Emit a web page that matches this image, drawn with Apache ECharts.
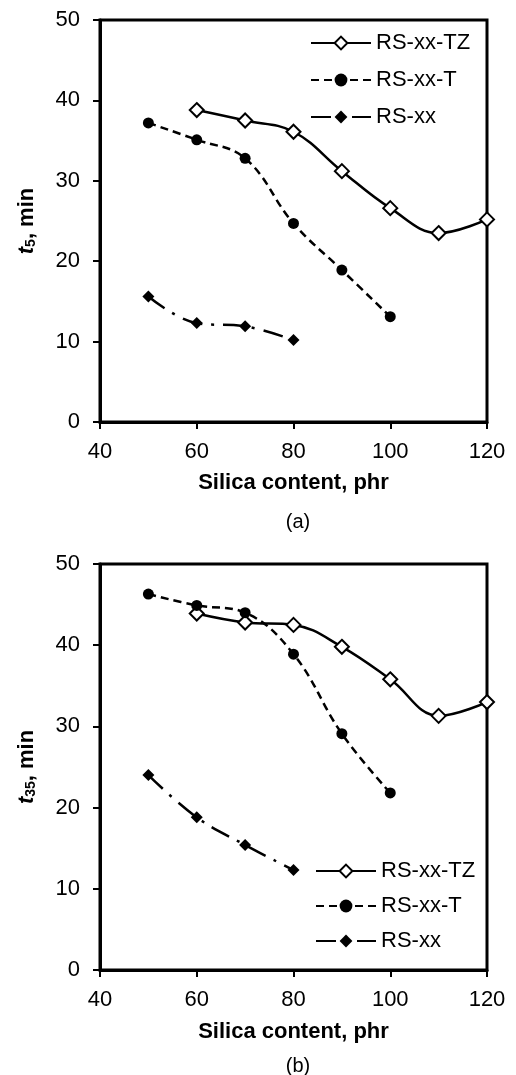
<!DOCTYPE html>
<html>
<head>
<meta charset="utf-8">
<script src="https://cdn.jsdelivr.net/npm/echarts@6/dist/echarts.min.js"></script>
<style>
  html, body { margin: 0; padding: 0; background: #fff; }
  #chart { width: 516px; height: 1075px; }
</style>
</head>
<body>
<div id="chart"></div>
<script>
// silica content, phr
let silica = [50, 60, 70, 80, 90, 100, 110, 120];

// (a) t5, min
let t5_TZ = [null, 38.8, 37.5, 36.1, 31.2, 26.6, 23.5, 25.2];
let t5_T = [37.2, 35.1, 32.8, 24.7, 18.9, 13.1, null, null];
let t5_xx = [15.6, 12.3, 11.9, 10.2, null, null, null, null];

// (b) t35, min
let t35_TZ = [null, 43.9, 42.8, 42.5, 39.8, 35.8, 31.3, 33.0];
let t35_T = [46.3, 44.9, 44.0, 38.9, 29.1, 21.8, null, null];
let t35_xx = [24.0, 18.8, 15.4, 12.3, null, null, null, null];

let names = ['RS-xx-TZ', 'RS-xx-T', 'RS-xx'];

let font = 'Liberation Sans, Arial, sans-serif';

function pairs(arr) {
  let out = [];
  for (let i = 0; i < silica.length; i++) {
    if (arr[i] !== null) out.push([silica[i], arr[i]]);
  }
  return out;
}

// 每条曲线的样式
function seriesFor(idx, tz, t, xx) {
  return [
    {
      name: names[0], type: 'line', xAxisIndex: idx, yAxisIndex: idx,
      data: pairs(tz), smooth: 0.4,
      symbol: 'diamond', symbolSize: 14,
      lineStyle: { color: '#000', width: 2.5, type: 'solid' },
      itemStyle: { color: '#fff', borderColor: '#000', borderWidth: 2 }
    },
    {
      name: names[1], type: 'line', xAxisIndex: idx, yAxisIndex: idx,
      data: pairs(t), smooth: 0.4,
      symbol: 'circle', symbolSize: 11,
      lineStyle: { color: '#000', width: 2.5, type: [8, 5] },
      itemStyle: { color: '#000' }
    },
    {
      name: names[2], type: 'line', xAxisIndex: idx, yAxisIndex: idx,
      data: pairs(xx), smooth: 0.4,
      symbol: 'diamond', symbolSize: 12,
      lineStyle: { color: '#000', width: 2.5, type: [20, 9, 3, 9] },
      itemStyle: { color: '#000' }
    }
  ];
}

function xAxisFor(idx, gap) {
  return {
    type: 'value', gridIndex: idx, min: 40, max: 120, interval: 20,
    name: 'Silica content, phr', nameLocation: 'middle', nameGap: gap,
    nameTextStyle: { fontFamily: font, fontSize: 22, fontWeight: 'bold', color: '#000' },
    axisLine: { lineStyle: { color: '#000', width: 3 } },
    axisTick: { length: 7, lineStyle: { color: '#000', width: 2 } },
    axisLabel: { margin: 19, fontFamily: font, fontSize: 22, color: '#000' },
    splitLine: { show: false }
  };
}

function yAxisFor(idx, sub) {
  return {
    type: 'value', gridIndex: idx, min: 0, max: 50, interval: 10,
    name: '{t|t}{s|' + sub + '}{n|, min}', nameLocation: 'middle', nameGap: 62,
    nameTextStyle: {
      rich: {
        t: { fontFamily: font, fontSize: 22, fontWeight: 'bold', fontStyle: 'italic', color: '#000' },
        s: { fontFamily: font, fontSize: 14, fontWeight: 'bold', color: '#000', verticalAlign: 'bottom', padding: [9, 0, 0, 0] },
        n: { fontFamily: font, fontSize: 22, fontWeight: 'bold', color: '#000' }
      }
    },
    axisLine: { lineStyle: { color: '#000', width: 3 } },
    axisTick: { length: 7, lineStyle: { color: '#000', width: 2 } },
    axisLabel: { margin: 20, fontFamily: font, fontSize: 22, color: '#000' },
    splitLine: { show: false }
  };
}

let chart = echarts.init(document.getElementById('chart'));
let legendBase = {
  orient: 'vertical', data: names, itemWidth: 60, itemHeight: 16, padding: 0,
  textStyle: { fontFamily: font, fontSize: 22, color: '#000' },
  selectedMode: false
};

chart.setOption({
  backgroundColor: '#fff',
  animation: false,
  title: [
    { text: '(a)', left: 293, top: 507, textAlign: 'center', textStyle: { fontFamily: font, fontSize: 20, fontWeight: 'normal', color: '#000' } },
    { text: '(b)', left: 293, top: 1051, textAlign: 'center', textStyle: { fontFamily: font, fontSize: 20, fontWeight: 'normal', color: '#000' } }
  ],
  legend: [
    Object.assign({}, legendBase, { left: 310, top: 32, itemGap: 15 }),
    Object.assign({}, legendBase, { left: 315, top: 860, itemGap: 13 })
  ],
  grid: [
    { left: 100, top: 20, width: 387, height: 402, show: true, borderColor: '#000', borderWidth: 3 },
    { left: 100, top: 564, width: 387, height: 406, show: true, borderColor: '#000', borderWidth: 3 }
  ],
  xAxis: [xAxisFor(0, 50), xAxisFor(1, 51)],
  yAxis: [yAxisFor(0, '5'), yAxisFor(1, '35')],
  series: seriesFor(0, t5_TZ, t5_T, t5_xx).concat(seriesFor(1, t35_TZ, t35_T, t35_xx))
});
</script>
</body>
</html>
